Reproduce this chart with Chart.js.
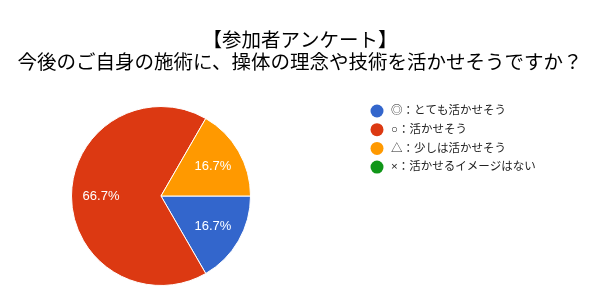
<!DOCTYPE html>
<html>
<head>
<meta charset="utf-8">
<script src="https://cdn.jsdelivr.net/npm/chart.js@4.4.0/dist/chart.umd.min.js"></script>
<style>
  html, body { margin: 0; padding: 0; background: #fff; }
  #wrap { width: 600px; height: 300px; }
</style>
</head>
<body>
<div id="wrap"><canvas id="pie_chart"></canvas></div>
<script>
var titleLines = ['【参加者アンケート】', '今後のご自身の施術に、操体の理念や技術を活かせそうですか？'];
var labels = ['◎：とても活かせそう', '○：活かせそう', '△：少しは活かせそう', '×：活かせるイメージはない'];
var counts = [1, 4, 1, 0];
var colors = ['#3366cc', '#dc3912', '#ff9900', '#109618'];

// two line title, full canvas width
const topTitle = {
  id: 'topTitle',
  afterDraw(chart) {
    const ctx = chart.ctx;
    ctx.save();
    ctx.fillStyle = '#000';
    ctx.font = '19.5px "Noto Sans CJK JP", sans-serif';
    ctx.textAlign = 'center';
    ctx.textBaseline = 'middle';
    ctx.fillText(titleLines[0], 300, 40);
    ctx.fillText(titleLines[1], 300, 62);
    ctx.restore();
  }
};

// percent labels inside the slices
const sliceLabels = {
  id: 'sliceLabels',
  afterDatasetsDraw(chart) {
    const ctx = chart.ctx;
    const meta = chart.getDatasetMeta(0);
    const data = chart.data.datasets[0].data;
    const total = data.reduce((a, b) => a + b, 0);
    ctx.save();
    ctx.fillStyle = '#fff';
    ctx.font = '13px Arial, "Liberation Sans", sans-serif';
    ctx.textAlign = 'center';
    ctx.textBaseline = 'middle';
    meta.data.forEach(function(arc, i) {
      if (!data[i]) return;
      const p = arc.getProps(['x', 'y', 'startAngle', 'endAngle', 'outerRadius'], true);
      const mid = (p.startAngle + p.endAngle) / 2;
      const r = p.outerRadius * 0.67;
      const pct = (data[i] / total * 100).toFixed(1) + '%';
      ctx.fillText(pct, p.x + Math.cos(mid) * r, p.y + Math.sin(mid) * r);
    });
    ctx.restore();
  }
};

// legend on the right
const sideLegend = {
  id: 'sideLegend',
  afterDraw(chart) {
    const ctx = chart.ctx;
    ctx.save();
    ctx.font = '11.5px Arial, "Liberation Sans", "Noto Sans CJK JP", sans-serif';
    ctx.textBaseline = 'middle';
    labels.forEach(function(txt, i) {
      const y = 111 + i * 18.7;
      ctx.fillStyle = colors[i];
      ctx.beginPath();
      ctx.arc(377, y, 6.5, 0, Math.PI * 2);
      ctx.fill();
      ctx.fillStyle = '#222';
      ctx.fillText(txt, 391, y);
    });
    ctx.restore();
  }
};

const ctx_pie = document.getElementById('pie_chart').getContext('2d');
const myChart_pie = new Chart(ctx_pie, {
  type: 'pie',
  data: {
    labels: labels,
    datasets: [{
      data: counts,
      backgroundColor: colors,
      borderColor: '#fff',
      borderWidth: 1
    }]
  },
  options: {
    responsive: true,
    maintainAspectRatio: false,
    animation: false,
    rotation: 90,
    layout: {
      padding: { top: 106, left: 71, right: 349, bottom: 14 }
    },
    plugins: {
      legend: { display: false },
      tooltip: { enabled: false },
      title: { display: false }
    }
  },
  plugins: [topTitle, sliceLabels, sideLegend]
});
</script>
</body>
</html>
